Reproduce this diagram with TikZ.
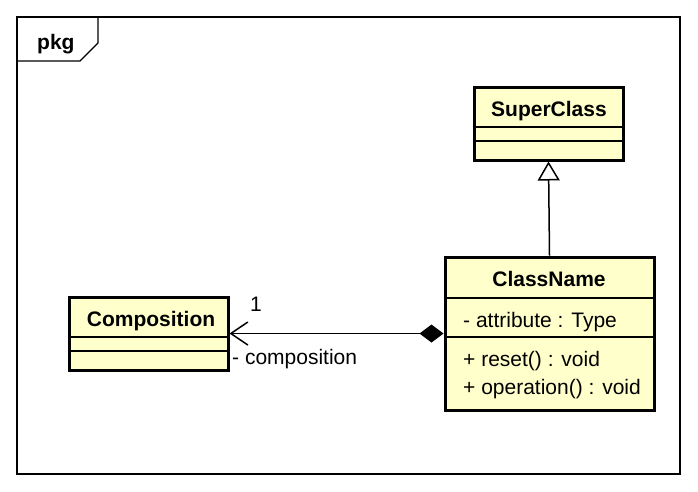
\documentclass[tikz,border=0pt]{standalone}
\usepackage{fontspec}
\setmainfont{Liberation Sans}
\usetikzlibrary{arrows.meta}
\definecolor{umlyellow}{RGB}{255,255,204}

\begin{document}
\begin{tikzpicture}[x=1pt,y=-1pt,
    classbox/.style={draw=black, line width=3pt, fill=umlyellow, inner sep=0pt},
    sepline/.style={draw=black, line width=1.5pt},
    nametext/.style={font=\fontsize{21}{25}\selectfont\bfseries, anchor=base, inner sep=0pt},
    membertext/.style={font=\fontsize{21}{25}\selectfont, anchor=base west, inner sep=0pt},
    link/.style={draw=black, line width=1.5pt}]
            \useasboundingbox (0,0) rectangle (698,491);

            \draw[line width=1.2pt] (17,17) rectangle (680,474);
            \draw[line width=1.2pt] (17,61) -- (80,61) -- (98,43) -- (98,17);
            \node[nametext, anchor=base west] (pkglabel) at (37,49) {pkg};

            \node[classbox, minimum width=149pt, minimum height=73pt] (super) at (548.5,123.5) {};
            \node[classbox, minimum width=209pt, minimum height=153pt] (cname) at (549.5,333.5) {};
            \node[classbox, minimum width=159pt, minimum height=73pt] (comp) at (148.5,333.5) {};

            \draw[sepline] (super.west |- 0,127) -- (super.east |- 0,127);
            \draw[sepline] (super.west |- 0,141) -- (super.east |- 0,141);
            \draw[sepline] (cname.west |- 0,298) -- (cname.east |- 0,298);
            \draw[sepline] (cname.west |- 0,337) -- (cname.east |- 0,337);
            \draw[sepline] (comp.west |- 0,337) -- (comp.east |- 0,337);
            \draw[sepline] (comp.west |- 0,351) -- (comp.east |- 0,351);

            \node[nametext] (supername) at (549,116) {SuperClass};
            \node[nametext] (cnamename) at (549,286) {ClassName};
            \node[nametext] (compname) at (151,326) {Composition};
            \node[membertext] (attr) at (463,327) {- attribute : Type};
            \node[membertext] (opreset) at (463,366) {+ reset() : void};
            \node[membertext] (opmain) at (463,394) {+ operation() : void};

            \draw[link, -{Triangle[fill=white, length=19pt, width=22pt]}] (cname.north) -- (super.south);
            \draw[link, {Diamond[length=24pt, width=18pt]}-{Straight Barb[length=17pt, width=23pt]}] (cname.west) -- (comp.east);

            \node[membertext] (multlabel) at (250,311) {1};
            \node[membertext] (rolelabel) at (232,364) {- composition};
        \end{tikzpicture}
\end{document}
